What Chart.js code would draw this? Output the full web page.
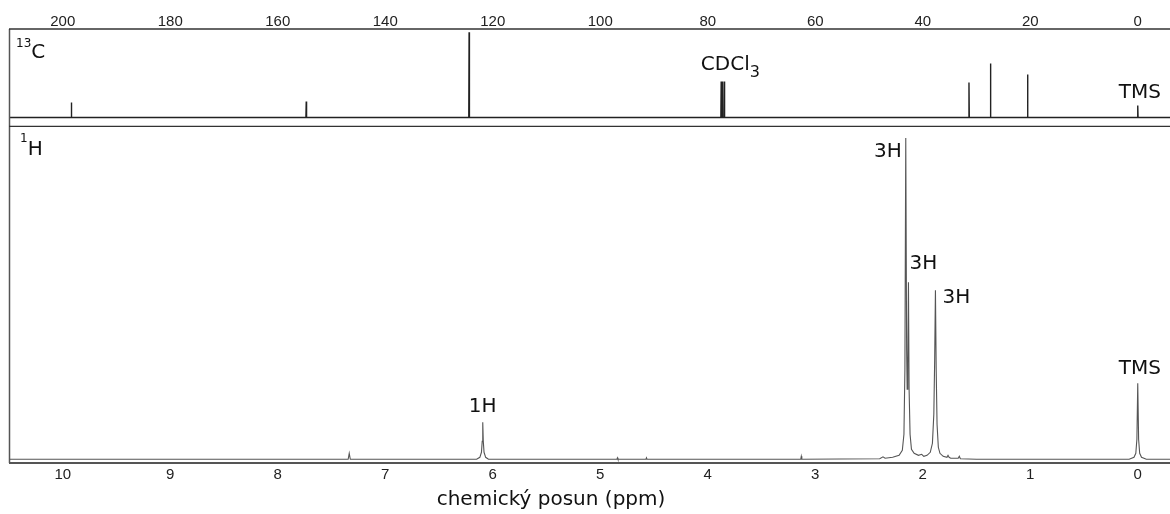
<!DOCTYPE html>
<html>
<head>
<meta charset="utf-8">
<title>NMR spektrum</title>
<script src="https://cdn.jsdelivr.net/npm/chart.js@4.4.1/dist/chart.umd.min.js"></script>
<style>
  html, body { margin: 0; padding: 0; background: #fff; }
  #wrap { position: relative; width: 1170px; height: 514px; overflow: hidden; }
  canvas { position: absolute; left: 0; }
  #carbonChart { top: 0; }
  #protonChart { top: 127px; }
</style>
</head>
<body>
<div id="wrap">
  <canvas id="carbonChart" width="1170" height="127"></canvas>
  <canvas id="protonChart" width="1170" height="387"></canvas>
</div>
<script>
// Tick labels (ppm)
const carbonTicks = [200, 180, 160, 140, 120, 100, 80, 60, 40, 20, 0];
const protonTicks = [10, 9, 8, 7, 6, 5, 4, 3, 2, 1, 0];

// 13C spectrum: chemical shift (ppm) and relative intensity
const carbonShift = [210, 198.46, 198.4, 198.34, 154.76, 154.7, 154.64, 124.46, 124.4, 124.34,
    77.56, 77.5, 77.44, 77.26, 77.2, 77.14, 76.96, 76.9, 76.84,
    31.46, 31.4, 31.34, 27.46, 27.4, 27.34, 20.56, 20.5, 20.44, 0.06, 0, -0.06, -6];
const carbonIntensity = [0, 0, 15, 0, 0, 16, 0, 0, 85, 0,
    0, 36, 0, 0, 36, 0, 0, 36, 0,
    0, 35, 0, 0, 54, 0, 0, 43, 0, 0, 12, 0, 0];

// 1H spectrum: chemical shift (ppm) and relative intensity
const protonShift = [10.5, 7.345, 7.335, 7.325, 6.15, 6.12, 6.105, 6.098, 6.093, 6.088, 6.081, 6.066, 6.04,
    4.845, 4.84, 4.835, 4.575, 4.57, 4.565, 3.135, 3.13, 3.125,
    2.40, 2.37, 2.35, 2.28, 2.22, 2.19, 2.175, 2.166, 2.158, 2.150, 2.145, 2.139, 2.133, 2.127, 2.118, 2.105,
    2.08, 2.04, 2.01, 1.99, 1.96, 1.93, 1.91, 1.897, 1.889, 1.882, 1.875, 1.867, 1.855, 1.84, 1.81,
    1.775, 1.765, 1.755, 1.74, 1.67, 1.66, 1.65, 1.5,
    0.08, 0.035, 0.018, 0.008, 0, -0.008, -0.018, -0.035, -0.08, -0.3];
const protonIntensity = [0, 0, 6, 0, 0, 2, 7, 18, 37, 18, 7, 2, 0,
    0, 1.5, 0, 0, 1.5, 0, 0, 3, 0,
    0.5, 2.5, 1, 2, 4, 9, 25, 90, 321, 110, 70, 95, 177, 70, 25, 10,
    6, 4, 5, 3, 4, 7, 16, 45, 100, 169, 90, 35, 12, 6, 3,
    2, 4, 2, 1, 1, 3, 0.5, 0,
    0, 2, 6, 20, 76, 20, 6, 2, 0, 0];

// Peak annotations
const carbonNotes = ['CDCl', 'TMS'];
const carbonNoteShift = [77.2, 0];
const carbonNoteLevel = [47, 20];
const protonNotes = ['3H', '3H', '3H', '1H', 'TMS'];
const protonNoteShift = [2.158, 2.133, 1.882, 6.093, 0];
const protonNoteLevel = [302, 190, 156, 47, 85];

const axisTitle = 'chemický posun (ppm)';

const labelFont = '"DejaVu Sans", sans-serif';
const tickFont = { family: '"Liberation Sans", Arial, sans-serif', size: 15 };

function toPoints(xs, ys) {
    return xs.map((x, i) => ({ x: x, y: ys[i] }));
}

function drawLine(ctx, x1, y1, x2, y2, color, width) {
    ctx.save();
    ctx.strokeStyle = color;
    ctx.lineWidth = width;
    ctx.beginPath();
    ctx.moveTo(x1, y1);
    ctx.lineTo(x2, y2);
    ctx.stroke();
    ctx.restore();
}

function drawText(ctx, text, x, y, size, align) {
    ctx.save();
    ctx.fillStyle = '#111';
    ctx.font = size + 'px ' + labelFont;
    ctx.textAlign = align;
    ctx.textBaseline = 'alphabetic';
    ctx.fillText(text, x, y);
    const w = ctx.measureText(text).width;
    ctx.restore();
    return w;
}

function baseOptions(xTicks, xMin, xMax, yMin, yMax, position, axisHeight, pad) {
    return {
        responsive: false,
        animation: false,
        events: [],
        layout: { padding: { left: 9, right: 0, top: 0, bottom: 0 } },
        plugins: { legend: { display: false }, tooltip: { enabled: false } },
        scales: {
            x: {
                type: 'linear',
                position: position,
                reverse: true,
                min: xMin,
                max: xMax,
                grid: { display: false, drawTicks: false },
                border: { display: false },
                ticks: { color: '#222', font: tickFont, padding: pad, maxRotation: 0, autoSkip: false },
                afterBuildTicks: scale => { scale.ticks = xTicks.map(v => ({ value: v })); },
                afterFit: scale => { scale.height = axisHeight; }
            },
            y: { display: false, min: yMin, max: yMax }
        }
    };
}

// 13C panel
function drawCarbonChart() {
    const ctx = document.getElementById('carbonChart').getContext('2d');
    const options = baseOptions(carbonTicks, -6, 210, -9.4, 88.3, 'top', 29, -2);
    new Chart(ctx, {
        type: 'line',
        data: {
            datasets: [{
                data: toPoints(carbonShift, carbonIntensity),
                borderColor: '#222',
                borderWidth: 1.4,
                pointRadius: 0,
                tension: 0
            }]
        },
        options: options,
        plugins: [{
            id: 'carbonFrame',
            afterDraw(chart) {
                const c = chart.ctx;
                const a = chart.chartArea;
                const xs = chart.scales.x;
                const ys = chart.scales.y;
                drawLine(c, a.left + 0.5, a.top, a.left + 0.5, a.bottom, '#555', 1.5);
                drawLine(c, a.left, a.top, a.right, a.top, '#333', 1.5);
                drawLine(c, a.left, a.bottom - 0.5, a.right, a.bottom - 0.5, '#333', 1.5);
                // panel label 13C
                const w = drawText(c, '13', a.left + 7, 47, 12, 'left');
                drawText(c, 'C', a.left + 7 + w, 58, 20, 'left');
                // CDCl3 with subscript
                const cx = xs.getPixelForValue(carbonNoteShift[0]) - 22;
                const cy = ys.getPixelForValue(carbonNoteLevel[0]);
                const cw = drawText(c, carbonNotes[0], cx, cy, 20, 'left');
                drawText(c, '3', cx + cw, cy + 7, 16, 'left');
                // TMS
                drawText(c, carbonNotes[1], xs.getPixelForValue(carbonNoteShift[1]) + 2,
                    ys.getPixelForValue(carbonNoteLevel[1]), 20, 'center');
            }
        }]
    });
}

// 1H panel
function drawProtonChart() {
    const ctx = document.getElementById('protonChart').getContext('2d');
    const options = baseOptions(protonTicks, -0.3, 10.5, -3.7, 332, 'bottom', 51, 3);
    const noteAlign = ['right', 'left', 'left', 'center', 'center'];
    const noteDx = [-4, 1, 7, 0, 2];
    new Chart(ctx, {
        type: 'line',
        data: {
            datasets: [{
                data: toPoints(protonShift, protonIntensity),
                borderColor: '#555',
                borderWidth: 1.1,
                pointRadius: 0,
                tension: 0
            }]
        },
        options: options,
        plugins: [{
            id: 'protonFrame',
            afterDraw(chart) {
                const c = chart.ctx;
                const a = chart.chartArea;
                const xs = chart.scales.x;
                const ys = chart.scales.y;
                drawLine(c, a.left + 0.5, 0, a.left + 0.5, a.bottom, '#555', 1.5);
                drawLine(c, a.left, a.bottom, a.right, a.bottom, '#555', 2);
                // panel label 1H
                const w = drawText(c, '1', a.left + 11, 15, 12, 'left');
                drawText(c, 'H', a.left + 11 + w, 28, 20, 'left');
                protonNotes.forEach((note, i) => {
                    drawText(c, note, xs.getPixelForValue(protonNoteShift[i]) + noteDx[i],
                        ys.getPixelForValue(protonNoteLevel[i]), 20, noteAlign[i]);
                });
                // axis title
                drawText(c, axisTitle, 551, 378, 20, 'center');
            }
        }]
    });
}

document.addEventListener('DOMContentLoaded', () => {
    drawCarbonChart();
    drawProtonChart();
});
</script>
</body>
</html>
